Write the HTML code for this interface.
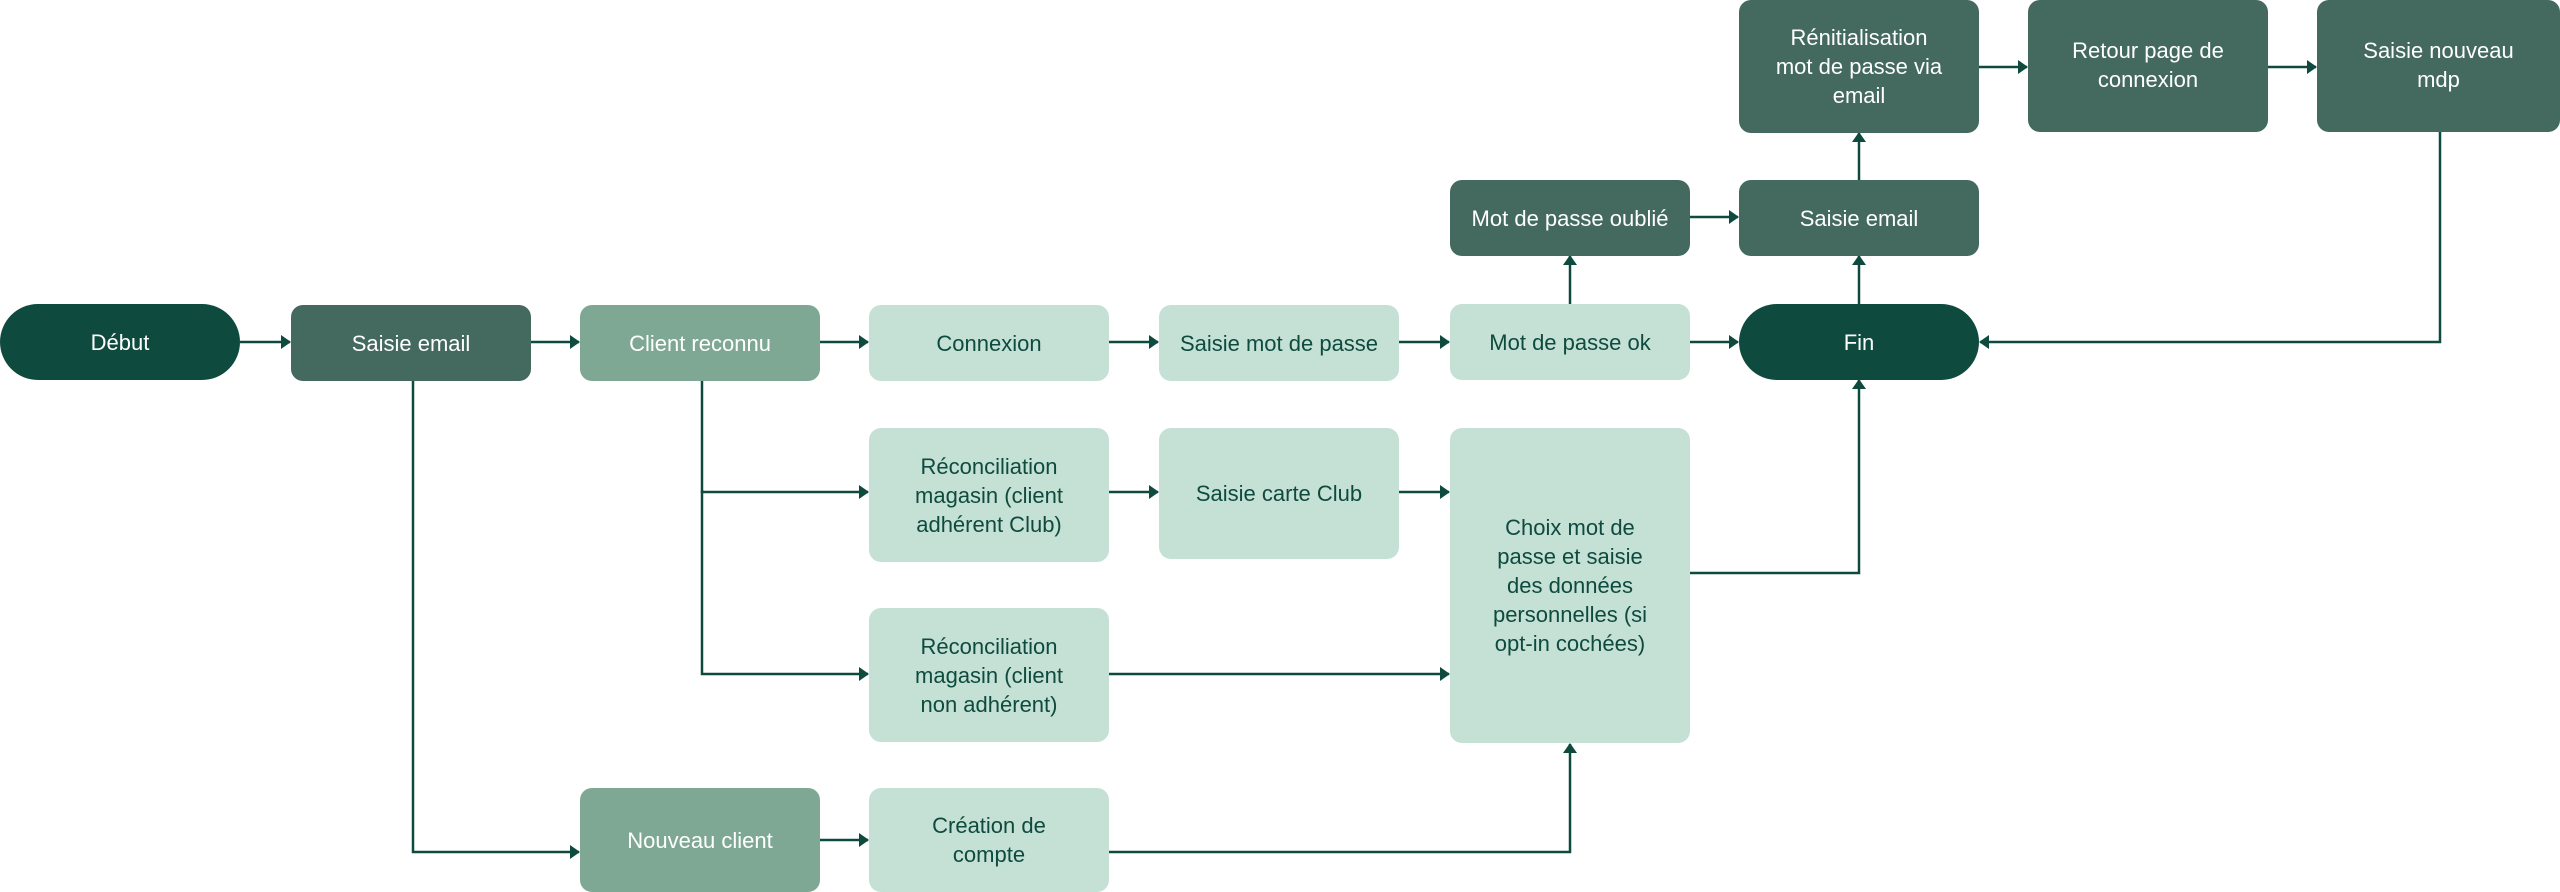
<!DOCTYPE html>
<html><head><meta charset="utf-8"><style>
html,body{margin:0;padding:0;background:#fff;}
body{width:2560px;height:892px;position:relative;overflow:hidden;font-family:"Liberation Sans",sans-serif;}
.b{position:absolute;display:flex;align-items:center;justify-content:center;text-align:center;border-radius:12px;font-size:22px;line-height:29px;box-sizing:border-box;padding:0 8px;white-space:nowrap;}
.t{background:#0e4b3e;color:#fff;border-radius:40px;}
.d{background:#44695f;color:#fff;}
.m{background:#7ea893;color:#fff;}
.l{background:#c5e0d5;color:#0e4b3e;}
svg{position:absolute;left:0;top:0;}
</style></head><body>
<svg width="2560" height="892">
<defs><marker id="a" markerWidth="10" markerHeight="14" refX="9" refY="7" orient="auto" markerUnits="userSpaceOnUse"><path d="M0,0 L10,7 L0,14 z" fill="#0e4b3e"/></marker></defs>
<g stroke="#0e4b3e" stroke-width="2.5" fill="none" marker-end="url(#a)">
<path d="M240,342 H290"/>
<path d="M531,342 H579"/>
<path d="M820,342 H868"/>
<path d="M1109,342 H1158"/>
<path d="M1399,342 H1449"/>
<path d="M1690,342 H1738"/>
<path d="M2440,131 V342 H1980"/>
<path d="M1570,304 V256"/>
<path d="M1690,217 H1738"/>
<path d="M1859,304 V256"/>
<path d="M1859,180 V133"/>
<path d="M1979,67 H2027"/>
<path d="M2268,67 H2316"/>
<path d="M413,380 V852 H579"/>
<path d="M702,380 V492 H868"/>
<path d="M702,490 V674 H868"/>
<path d="M1109,492 H1158"/>
<path d="M1399,492 H1449"/>
<path d="M1109,674 H1449"/>
<path d="M1109,852 H1570 V744"/>
<path d="M1690,573 H1859 V380"/>
<path d="M820,840 H868"/>
</g>
</svg>
<div class="b t" style="left:0;top:304px;width:240px;height:76px;">Début</div>
<div class="b d" style="left:291px;top:305px;width:240px;height:76px;">Saisie email</div>
<div class="b m" style="left:580px;top:305px;width:240px;height:76px;">Client reconnu</div>
<div class="b l" style="left:869px;top:305px;width:240px;height:76px;">Connexion</div>
<div class="b l" style="left:1159px;top:305px;width:240px;height:76px;">Saisie mot de passe</div>
<div class="b l" style="left:1450px;top:304px;width:240px;height:76px;">Mot de passe ok</div>
<div class="b t" style="left:1739px;top:304px;width:240px;height:76px;">Fin</div>
<div class="b d" style="left:1450px;top:180px;width:240px;height:76px;">Mot de passe oublié</div>
<div class="b d" style="left:1739px;top:180px;width:240px;height:76px;">Saisie email</div>
<div class="b d" style="left:1739px;top:0;width:240px;height:133px;">Rénitialisation<br>mot de passe via<br>email</div>
<div class="b d" style="left:2028px;top:0;width:240px;height:132px;align-items:flex-start;padding-top:36px;">Retour page de<br>connexion</div>
<div class="b d" style="left:2317px;top:0;width:243px;height:132px;align-items:flex-start;padding-top:36px;">Saisie nouveau<br>mdp</div>
<div class="b l" style="left:869px;top:428px;width:240px;height:134px;">Réconciliation<br>magasin (client<br>adhérent Club)</div>
<div class="b l" style="left:1159px;top:428px;width:240px;height:131px;">Saisie carte Club</div>
<div class="b l" style="left:1450px;top:428px;width:240px;height:315px;">Choix mot de<br>passe et saisie<br>des données<br>personnelles (si<br>opt-in cochées)</div>
<div class="b l" style="left:869px;top:608px;width:240px;height:134px;">Réconciliation<br>magasin (client<br>non adhérent)</div>
<div class="b m" style="left:580px;top:788px;width:240px;height:104px;">Nouveau client</div>
<div class="b l" style="left:869px;top:788px;width:240px;height:104px;">Création de<br>compte</div>
</body></html>
